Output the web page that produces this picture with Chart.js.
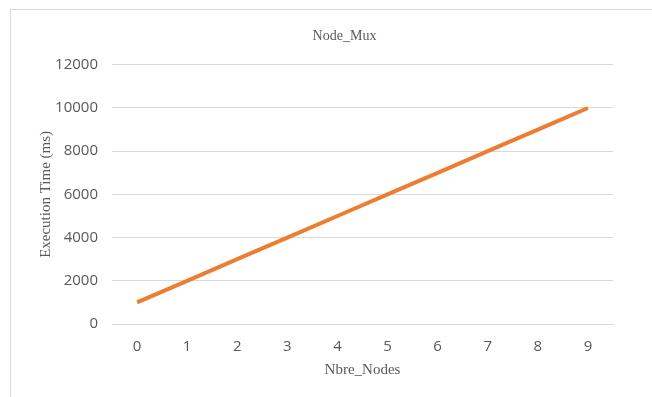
<!DOCTYPE html>
<html>
<head>
<meta charset="utf-8">
<script src="https://cdn.jsdelivr.net/npm/chart.js@4"></script>
<style>
  html, body { margin: 0; padding: 0; background: #fff; }
  #frame {
    position: absolute; left: 10px; top: 9px; width: 660px; height: 400px;
    border: 1px solid #d9d9d9; box-sizing: border-box;
  }
  #wrap { position: absolute; left: 11px; top: 10px; width: 641px; height: 387px; }
</style>
</head>
<body>
<div id="frame"></div>
<div id="wrap"><canvas id="chart"></canvas></div>
<script>
  'use strict';

  // data
  const nodes = ['0', '1', '2', '3', '4', '5', '6', '7', '8', '9'];
  const execTime = [1000, 2000, 3000, 4000, 5000, 6000, 7000, 8000, 9000, 10000];
  const yTicks = [0, 2000, 4000, 6000, 8000, 10000, 12000];

  const grey = '#595959';
  const serif = '"Liberation Serif", "Times New Roman", serif';
  const sans = '"Open Sans", "Liberation Sans", sans-serif';

  new Chart(document.getElementById('chart'), {
    type: 'line',
    data: {
      labels: nodes,
      datasets: [{
        data: execTime,
        borderColor: '#ed7d31',
        backgroundColor: '#ed7d31',
        borderWidth: 4,
        pointRadius: 0,
        tension: 0
      }]
    },
    options: {
      responsive: true,
      maintainAspectRatio: false,
      animation: false,
      layout: { padding: { top: 18, right: 0, left: 26, bottom: 18 } },
      plugins: {
        legend: { display: false },
        tooltip: { enabled: false },
        title: {
          display: true,
          text: 'Node_Mux',
          color: grey,
          font: { family: serif, size: 14, weight: 'normal' },
          padding: { top: 0, bottom: 20 }
        }
      },
      scales: {
        x: {
          offset: true,
          grid: { display: false },
          border: { color: '#d9d9d9' },
          ticks: { color: grey, font: { family: sans, size: 15 }, padding: 6, maxRotation: 0 },
          title: {
            display: true,
            text: 'Nbre_Nodes',
            color: grey,
            font: { family: serif, size: 15 },
            padding: { top: 2, bottom: 0 }
          },
          afterFit: function (scale) { scale.height = 55; }
        },
        y: {
          min: 0,
          max: 12000,
          afterBuildTicks: function (scale) {
            scale.ticks = yTicks.map(function (v) { return { value: v }; });
          },
          grid: { color: '#d9d9d9', lineWidth: 1, drawTicks: false },
          border: { display: false },
          ticks: {
            color: grey,
            font: { family: sans, size: 15 },
            padding: 14,
            callback: function (v) { return String(v); }
          },
          title: {
            display: true,
            text: 'Execution Time (ms)',
            color: grey,
            font: { family: serif, size: 15 },
            padding: { top: 0, bottom: 6 }
          },
          afterFit: function (scale) { scale.width = 75; }
        },
        // empty right-hand axis keeps the same right margin as the reference
        yRight: {
          position: 'right',
          display: true,
          grid: { display: false },
          border: { display: false },
          ticks: { display: false },
          afterFit: function (scale) { scale.width = 39; }
        }
      }
    }
  });
</script>
</body>
</html>
